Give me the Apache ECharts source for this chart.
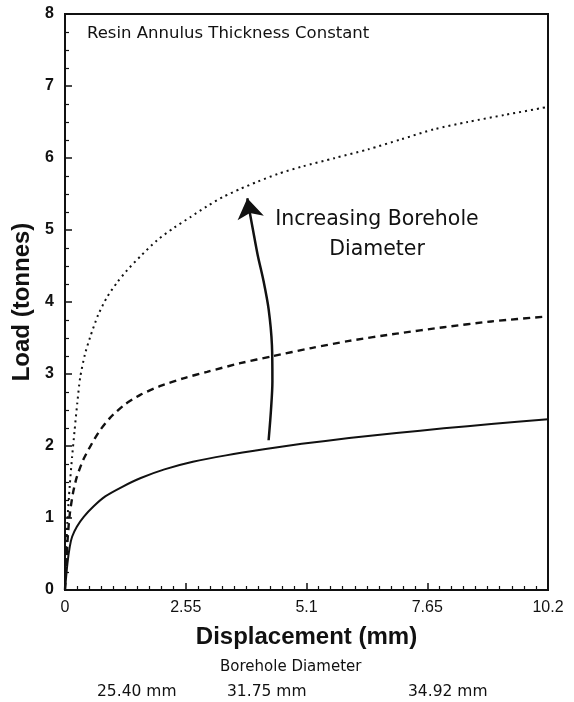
<!DOCTYPE html>
<html>
<head>
<meta charset="utf-8">
<script src="https://cdn.jsdelivr.net/npm/echarts@6/dist/echarts.min.js"></script>
<style>
  html, body { margin: 0; padding: 0; background: #fff; }
  #chart { width: 574px; height: 702px; }
</style>
</head>
<body>
<div id="chart"></div>
<script>
// Load-displacement curves for three borehole diameters
const xTicks = [0, 2.55, 5.1, 7.65, 10.2];
const diameters = ['25.40 mm', '31.75 mm', '34.92 mm'];

const load2540 = [
  [0, 0], [0.05, 0.36], [0.1, 0.6], [0.15, 0.74], [0.25, 0.88], [0.4, 1.02],
  [0.6, 1.16], [0.85, 1.30], [1.2, 1.43], [1.6, 1.555], [2.1, 1.675], [2.7, 1.78],
  [3.4, 1.87], [4.2, 1.955], [5.0, 2.03], [6.0, 2.11], [7.0, 2.18], [8.0, 2.245],
  [9.0, 2.305], [10.2, 2.37]
];
const load3175 = [
  [0, 0], [0.03, 0.4], [0.06, 0.75], [0.1, 1.05], [0.17, 1.35], [0.25, 1.57],
  [0.38, 1.8], [0.53, 1.99], [0.72, 2.2], [0.95, 2.39], [1.25, 2.57], [1.59, 2.71],
  [2.0, 2.83], [2.5, 2.94], [3.0, 3.03], [3.7, 3.15], [4.4, 3.25], [5.2, 3.36],
  [6.0, 3.46], [7.0, 3.56], [8.0, 3.65], [9.0, 3.73], [10.2, 3.80]
];
const load3492 = [
  [0, 0], [0.02, 0.45], [0.05, 0.95], [0.1, 1.45], [0.15, 1.85], [0.2, 2.2],
  [0.26, 2.6], [0.32, 2.95], [0.42, 3.27], [0.53, 3.51], [0.7, 3.82], [0.89, 4.07],
  [1.1, 4.27], [1.31, 4.44], [1.6, 4.64], [1.95, 4.86], [2.3, 5.03], [2.65, 5.18],
  [3.0, 5.33], [3.34, 5.46], [3.7, 5.57], [4.06, 5.67], [4.5, 5.78], [5.0, 5.88],
  [5.7, 6.0], [6.4, 6.12], [7.1, 6.26], [7.8, 6.4], [8.5, 6.5], [9.3, 6.6], [10.2, 6.71]
];
// Curved arrow pointing toward larger boreholes
const arrowBody = [
  [4.30, 2.08], [4.35, 2.5], [4.38, 2.9], [4.37, 3.4], [4.30, 3.9],
  [4.19, 4.3], [4.07, 4.65], [3.97, 5.0], [3.90, 5.25]
];
const arrowTip = [[3.90, 5.25], [3.85, 5.44]];

const FONT = '"Liberation Sans", Arial, sans-serif';
const NOTE_FONT = '"DejaVu Sans", "Liberation Sans", sans-serif';

const chart = echarts.init(document.getElementById('chart'), null, { renderer: 'canvas' });

chart.setOption({
  backgroundColor: '#fff',
  animation: false,
  grid: {
    left: 65, right: 26, top: 14, bottom: 112,
    show: true, borderColor: '#111', borderWidth: 2, backgroundColor: 'transparent'
  },
  xAxis: {
    type: 'value', min: 0, max: 10.2, interval: 2.55,
    name: 'Displacement (mm)', nameLocation: 'middle', nameGap: 35,
    nameTextStyle: { fontFamily: FONT, fontSize: 24, fontWeight: 'bold', color: '#111' },
    axisLine: { lineStyle: { color: '#111', width: 2 } },
    axisTick: { inside: true, length: 7, lineStyle: { color: '#111', width: 1.5 } },
    minorTick: { show: true, splitNumber: 10, length: 4, lineStyle: { color: '#111', width: 1.2 } },
    axisLabel: {
      fontFamily: FONT, fontSize: 16, color: '#111', margin: 10,
      formatter: v => { const t = xTicks.find(k => Math.abs(k - v) < 1e-6); return t === undefined ? '' : String(t); }
    },
    splitLine: { show: false }
  },
  yAxis: {
    type: 'value', min: 0, max: 8, interval: 1,
    name: 'Load (tonnes)', nameLocation: 'middle', nameGap: 29, nameRotate: 90,
    nameTextStyle: { fontFamily: FONT, fontSize: 24, fontWeight: 'bold', color: '#111' },
    axisLine: { lineStyle: { color: '#111', width: 2 } },
    axisTick: { inside: true, length: 7, lineStyle: { color: '#111', width: 1.5 } },
    minorTick: { show: true, splitNumber: 4, length: 4, lineStyle: { color: '#111', width: 1.2 } },
    axisLabel: { fontFamily: FONT, fontSize: 16, color: '#111', fontWeight: 'bold', margin: 11 },
    splitLine: { show: false }
  },
  series: [
    {
      name: diameters[0], type: 'line', data: load2540, showSymbol: false, smooth: 0.25,
      lineStyle: { color: '#111', width: 2, type: 'solid' }
    },
    {
      name: diameters[1], type: 'line', data: load3175, showSymbol: false, smooth: 0.25,
      lineStyle: { color: '#111', width: 2.4, type: [7, 5] }
    },
    {
      name: diameters[2], type: 'line', data: load3492, showSymbol: false, smooth: 0.25,
      lineStyle: { color: '#111', width: 2, type: [2, 4] }
    },
    {
      type: 'line', data: arrowBody, showSymbol: false, smooth: 0.3, silent: true, z: 5,
      lineStyle: { color: '#111', width: 2.5 }
    },
    {
      type: 'lines', coordinateSystem: 'cartesian2d',
      symbol: ['none', 'arrow'], symbolSize: [12, 20],
      lineStyle: { color: '#111', width: 2.5, opacity: 1 },
      data: [{ coords: arrowTip }],
      silent: true, z: 6
    }
  ],
  graphic: [
    { type: 'text', left: 87, top: 25,
      style: { text: 'Resin Annulus Thickness Constant', fontFamily: NOTE_FONT, fontSize: 16.5, fill: '#111' } },
    { type: 'text', x: 377, y: 205,
      style: { text: 'Increasing Borehole\nDiameter', fontFamily: NOTE_FONT, fontSize: 20.5, lineHeight: 30,
               fill: '#111', align: 'center', verticalAlign: 'top' } },
    { type: 'text', left: 220, top: 660,
      style: { text: 'Borehole Diameter', fontFamily: NOTE_FONT, fontSize: 15, fill: '#111' } },
    { type: 'text', left: 97, top: 684,
      style: { text: diameters[0], fontFamily: NOTE_FONT, fontSize: 15.5, fill: '#111' } },
    { type: 'text', left: 227, top: 684,
      style: { text: diameters[1], fontFamily: NOTE_FONT, fontSize: 15.5, fill: '#111' } },
    { type: 'text', left: 408, top: 684,
      style: { text: diameters[2], fontFamily: NOTE_FONT, fontSize: 15.5, fill: '#111' } }
  ]
});
</script>
</body>
</html>
